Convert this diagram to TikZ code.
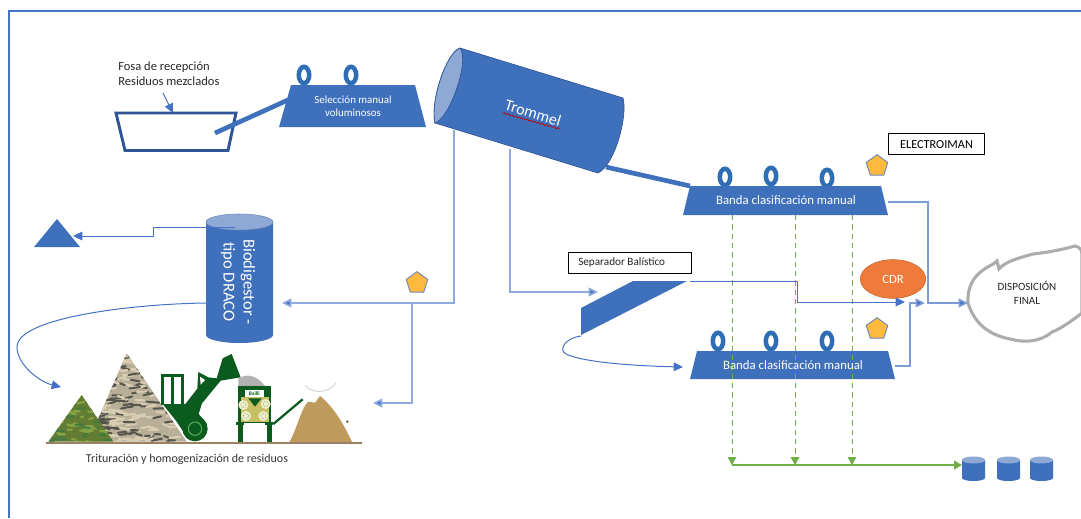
\documentclass[tikz,border=0pt]{standalone}
\usepackage{fontspec}
\setmainfont{Carlito}
\usetikzlibrary{arrows.meta,shapes.geometric,decorations.pathmorphing,calc}
\definecolor{mainblue}{HTML}{3F70BC}
\definecolor{edgeblue}{HTML}{4472C4}
\definecolor{paleblue}{HTML}{8FAADC}
\definecolor{darkblue}{HTML}{2F5597}
\definecolor{faceblue}{HTML}{8EA9D6}
\definecolor{ringblue}{HTML}{2F6DB5}
\definecolor{goldf}{HTML}{FFB93C}
\definecolor{orangef}{HTML}{EE7B3B}
\definecolor{greenl}{HTML}{70AD47}
\definecolor{loader}{HTML}{0B5A1E}
\definecolor{pilebrown}{HTML}{BE9A5C}
\definecolor{pilegray}{HTML}{B8AF98}
\definecolor{piledark}{HTML}{55554C}
\definecolor{pilelight}{HTML}{D8CDB0}
\tikzset{
  conn/.style={draw=edgeblue,line width=0.75pt},
  connpale/.style={draw=paleblue,line width=1.2pt},
  arr/.style={-{Triangle[length=7pt,width=6.5pt,fill=edgeblue]}},
  greentip/.style={-{Triangle[length=6pt,width=6.5pt,fill=greenl]}},
  greendash/.style={draw=greenl,line width=0.75pt,dashed,dash pattern=on 4pt off 3pt,greentip},
  belt/.style={fill=mainblue},
  whitetext/.style={text=white,font=\fontsize{8.2}{10}\selectfont,align=center},
  bandtext/.style={text=white,font=\fontsize{9.6}{11}\selectfont,align=center},
  blacktext/.style={text=black!85,align=left},
  labelbox/.style={draw=black,line width=0.8pt,fill=white,minimum height=16pt,inner sep=0pt},
  ringshape/.style={draw=ringblue,line width=3.4pt},
  penta/.style={regular polygon,regular polygon sides=5,fill=goldf,draw=darkblue!70,line width=0.7pt,minimum size=17pt,inner sep=0pt},
}
\newcommand{\ringat}[2]{\draw[ringshape] (#1,#2) circle [x radius=5.2,y radius=8.2];}
\newcommand{\smallcyl}[1]{%
  \fill[mainblue] (#1,460) -- (#1+23,460) -- (#1+23,478) arc[start angle=0,end angle=180,x radius=11.5,y radius=3] -- cycle;
  \fill[faceblue] (#1+11.5,460) circle [x radius=11.5,y radius=3.5];}
\begin{document}
\begin{tikzpicture}[x=0.75pt,y=-0.75pt]
\useasboundingbox (0,0) rectangle (1081,518);
\draw[edgeblue,line width=1.5pt] (9,518) -- (9,11) -- (1081,11);

% Fosa
\draw[darkblue,line width=2.2pt] (116,113) -- (236,113) -- (228,150.5) -- (125,150.5) -- cycle;
\coordinate (fosaIn) at (215,133);
\coordinate (fosaTop) at (173,113);
\coordinate (selIn) at (288,100);
\node[blacktext,anchor=west,inner sep=0pt,font=\fontsize{9.4}{11.2}\selectfont] (fosaLabel) at (118,74) {Fosa de recepción\\Residuos mezclados};
\coordinate (fosaArrowStart) at (163,93);
\draw[conn,arr] (fosaArrowStart) -- (fosaTop);
\draw[mainblue,line width=3.5pt] (fosaIn) -- (selIn);

% Seleccion
\ringat{304}{75}\ringat{351}{75}
\fill[belt] (291,85) -- (415,85) -- (426,127) -- (279,127) -- cycle;
\node[whitetext] (sel) at (353,106) {Selección manual\\voluminosos};

% Trommel
\coordinate (tromOut) at (606,167);
\coordinate (banda1In) at (690,186);
\draw[mainblue,line width=3.5pt] (tromOut) -- (banda1In);
\fill[mainblue,draw=darkblue,line width=0.5pt] (460,48) -- (623,98) .. controls (628,115) and (615,165) .. (598,173) -- (435,123) .. controls (430,100) and (447,52) .. (460,48) -- cycle;
\fill[faceblue,draw=darkblue,line width=0.5pt] (460,48) .. controls (447,52) and (430,100) .. (435,123) .. controls (450,118) and (470,60) .. (460,48) -- cycle;
\node[text=white,rotate=-17,font=\fontsize{12}{14}\selectfont,inner sep=0pt] (trommel) at (533,113) {Trommel};
\draw[red!75!black,line width=0.5pt,decorate,decoration={snake,amplitude=0.6pt,segment length=3pt}] (503,113) -- (560,129);

% Banda 1
\ringat{725}{177}\ringat{771}{176}\ringat{827}{178}
\fill[belt] (690,186) -- (881,186) -- (888,215) -- (683,215) -- cycle;
% Banda 2
\ringat{718}{341}\ringat{771}{341}\ringat{827}{341}
\fill[belt] (697,351) -- (888,351) -- (895,379) -- (690,379) -- cycle;

% Green dashed
\coordinate (g1t) at (732,215);\coordinate (g2t) at (795,215);\coordinate (g3t) at (852,215);
\coordinate (g1b) at (732,465);\coordinate (g2b) at (795,465);\coordinate (g3b) at (852,465);
\coordinate (gEnd) at (962,465);
\draw[greendash] (g1t) -- (g1b);
\draw[greendash] (g2t) -- (g2b);
\draw[greendash] (g3t) -- (g3b);
\draw[greenl,line width=1.5pt,greentip] (g1b) -- (gEnd);
\node[bandtext] (banda1) at (786,200) {Banda clasificación manual};
\node[bandtext] (banda2) at (793,365) {Banda clasificación manual};

% Small cylinders
\smallcyl{962}\smallcyl{997}\smallcyl{1030}

% Separador
\fill[belt] (581,308) -- (633,281) -- (687,281) -- (581,335) -- cycle;
\node[labelbox,minimum width=92pt,anchor=north west] (sepbox) at (568,252) {};
\node[blacktext,anchor=west,inner sep=0pt,font=\fontsize{8.4}{10}\selectfont] (seplabel) at (578,263) {Separador Balístico};

% Electroiman
\node[labelbox,minimum width=72pt,anchor=north west,font=\fontsize{9.2}{11}\selectfont] (elec) at (888,133) {ELECTROIMAN};
\node[penta] (p1) at (877,166) {};
\node[penta] (p2) at (877,329) {};
\node[penta] (p3) at (417,283) {};

% CDR
\node[ellipse,fill=orangef,draw=orangef!85!black,line width=0.5pt,minimum width=49pt,minimum height=29pt,inner sep=0pt,text=white,font=\fontsize{9.5}{11}\selectfont] (cdr) at (893,279) {CDR};

% Cloud
\draw[gray!65,line width=2.3pt,fill=white] (968,303) .. controls (967,285) and (975,276) .. (983,270) .. controls (990,265) and (993,265) .. (997,261) -- (999,269) .. controls (1005,262) and (1015,259) .. (1033,254) .. controls (1050,252) and (1060,250) .. (1075,246) .. controls (1080,247) and (1082,250) .. (1082,255) -- (1082,313) .. controls (1070,322) and (1062,328) .. (1052,332) .. controls (1040,342) and (1025,343) .. (1010,339) .. controls (990,335) and (975,325) .. (968,303) -- cycle;
\node[font=\fontsize{8.3}{10}\selectfont,align=center,text=black!85] (disp) at (1027,293) {DISPOSICIÓN\\FINAL};

% Outgoing connectors
\coordinate (b1out) at (888,202);
\coordinate (b1corner) at (928,202);
\coordinate (dispIn) at (968,303);
\draw[connpale,draw=edgeblue!70,arr] (b1out) -- (b1corner) -- (b1corner|-dispIn) -- (dispIn);
\coordinate (sepOut) at (690,281);
\coordinate (sepA) at (797,281);
\coordinate (sepB) at (797,302);
\coordinate (sepEnd) at (905,302);
\draw[conn,arr] (sepOut) -- (sepA) -- (sepB) -- (sepEnd);
\coordinate (b2out) at (895,366);
\coordinate (b2A) at (910,366);
\coordinate (b2B) at (910,303);
\coordinate (b2End) at (925,303);
\draw[connpale,draw=edgeblue!70,arr] (b2out) -- (b2A) -- (b2B) -- (b2End);

% Trommel outputs
\coordinate (t1) at (454,130);
\coordinate (t1c) at (454,303);
\coordinate (bioIn) at (282,303);
\coordinate (branch) at (412,303);
\coordinate (branchC) at (412,403);
\coordinate (pileIn) at (373,403);
\draw[connpale,arr] (t1) -- (t1c) -- (bioIn);
\draw[connpale,arr] (branch) -- (branchC) -- (pileIn);
\coordinate (t2) at (510,149);
\coordinate (t2c) at (510,292);
\coordinate (sepIn) at (598,292);
\draw[connpale,arr] (t2) -- (t2c) -- (sepIn);

% Separator curve
\coordinate (sepLow) at (581,336);
\coordinate (b2In) at (683,367);
\draw[conn,arr] (sepLow) .. controls (565,338) and (558,350) .. (566,354) .. controls (585,363) and (640,366) .. (b2In);

% Biodigester
\fill[mainblue] (206,222) -- (273,222) -- (273,335) arc[start angle=0,end angle=180,x radius=33.5,y radius=8] -- cycle;
\fill[faceblue,draw=darkblue!70,line width=0.4pt] (239.5,222) circle [x radius=33.5,y radius=8];
\node[text=white,rotate=-90,align=center,font=\fontsize{12.5}{15}\selectfont] (bio) at (238,282) {Biodigestor -\\tipo DRACO};

% Triangle
\fill[mainblue] (34,247) -- (80,247) -- (57,219) -- cycle;
\coordinate (bioTop) at (235,227);
\coordinate (bA) at (153,227);
\coordinate (bB) at (153,236);
\coordinate (triIn) at (73,236);
\draw[conn,arr] (bioTop) -- (bA) -- (bB) -- (triIn);

% Curve to piles
\coordinate (bioLow) at (206,303);
\coordinate (pileTip) at (61,387);
\draw[conn,arr] (bioLow) .. controls (130,304) and (17,318) .. (17,347) .. controls (17,365) and (40,382) .. (pileTip);

% Process illustration (in zoomed coordinates)
\begin{scope}[shift={(0,290)},x=0.25pt,y=-0.25pt]
  \pgfmathsetseed{7}
  % gray pile
  \begin{scope}
    \clip (265,455) -- (380,190) -- (560,455) -- cycle;
    \fill[pilegray] (250,180) rectangle (570,460);
    \foreach \i in {1,...,260}{
      \pgfmathsetmacro{\xx}{250+310*rnd}
      \pgfmathsetmacro{\yy}{190+265*rnd}
      \pgfmathsetmacro{\ww}{14+24*rnd}
      \pgfmathsetmacro{\vv}{-8+16*rnd}
      \pgfmathtruncatemacro{\cc}{mod(\i,2)}
      \ifnum\cc=0
        \draw[piledark,line width=1.5pt,line cap=round] (\xx,\yy) -- ++(\ww,\vv);
      \else
        \draw[pilelight,line width=1.7pt,line cap=round] (\xx,\yy) -- ++(\ww,\vv);
      \fi
    }
  \end{scope}
  % green pile
  \begin{scope}
    \clip (145,455) -- (245,315) -- (340,455) -- cycle;
    \fill[olive!55!green!70!black] (140,310) rectangle (345,460);
    \foreach \i in {1,...,80}{
      \pgfmathsetmacro{\xx}{145+190*rnd}
      \pgfmathsetmacro{\yy}{315+140*rnd}
      \pgfmathsetmacro{\ww}{10+18*rnd}
      \pgfmathsetmacro{\vv}{-5+10*rnd}
      \pgfmathtruncatemacro{\cc}{mod(\i,2)}
      \ifnum\cc=0
        \draw[black!55!green!50!gray,line width=1.2pt] (\xx,\yy) -- ++(\ww,\vv);
      \else
        \draw[yellow!60!green!70!black,line width=1.5pt] (\xx,\yy) -- ++(\ww,\vv);
      \fi
    }
  \end{scope}
  % loader
  \draw[loader,line width=2.2pt] (488,345) -- (488,257) -- (548,257) -- (548,345) (517,257) -- (517,345);
  \fill[loader] (488,342) -- (556,342) -- (592,296) -- (595,246) -- (625,262) -- (650,265) -- (668,205) -- (695,192) -- (722,262) -- (662,272) -- (606,340) -- (596,372) -- (620,400) -- (560,440) -- (530,395) -- cycle;
  \fill[white] (600,260) -- (615,270) -- (602,284) -- cycle;
  \fill[loader] (585,416) circle [radius=38];
  \draw[green!30!gray,line width=0.8pt] (585,416) circle [radius=20];
  % machine
  \fill[gray!60] (715,265) .. controls (740,250) and (770,255) .. (795,288) -- (715,288) -- cycle;
  \fill[loader] (714,288) rectangle (814,400);
  \fill[olive!50!white] (722,322) -- (806,322) -- (806,395) -- (722,395) -- cycle;
  \fill[white] (735,300) rectangle (792,320);
  \node[font=\fontsize{4}{5}\selectfont\bfseries,text=loader,inner sep=0pt] (brand) at (763,310) {Bailli};
  \fill[loader] (745,325) -- (785,325) -- (765,350) -- cycle;
  \foreach \a/\b in {730/345,797/342,738/378,790/378}{\fill[white!85!olive] (\a,\b) circle [radius=15];\draw[loader,line width=0.3pt,densely dotted] (\a,\b) circle [radius=8];}
  \fill[loader] (708,395) rectangle (733,405);
  \fill[loader] (795,395) rectangle (820,405);
  \fill[loader] (713,400) rectangle (730,458);
  \fill[loader] (800,400) rectangle (817,458);
  \draw[loader,line width=1.7pt] (820,402) -- (908,328);
  % brown pile
  \fill[pilebrown] (868,456) .. controls (890,420) and (905,350) .. (925,335) -- (945,338) -- (960,318) .. controls (1000,350) and (1030,400) .. (1056,456) -- cycle;
  \draw[gray!35,line width=0.7pt] (915,285) .. controls (935,312) and (985,312) .. (1008,278);
  \fill[loader!50!olive] (1042,395) circle [radius=4];
  % ground
  \draw[brown!45!gray,line width=1.2pt] (138,459) -- (1085,459);
\end{scope}
\node[font=\fontsize{9}{11}\selectfont,text=black!80] (tri) at (187,459) {Trituración y homogenización de residuos};
\end{tikzpicture}
\end{document}
